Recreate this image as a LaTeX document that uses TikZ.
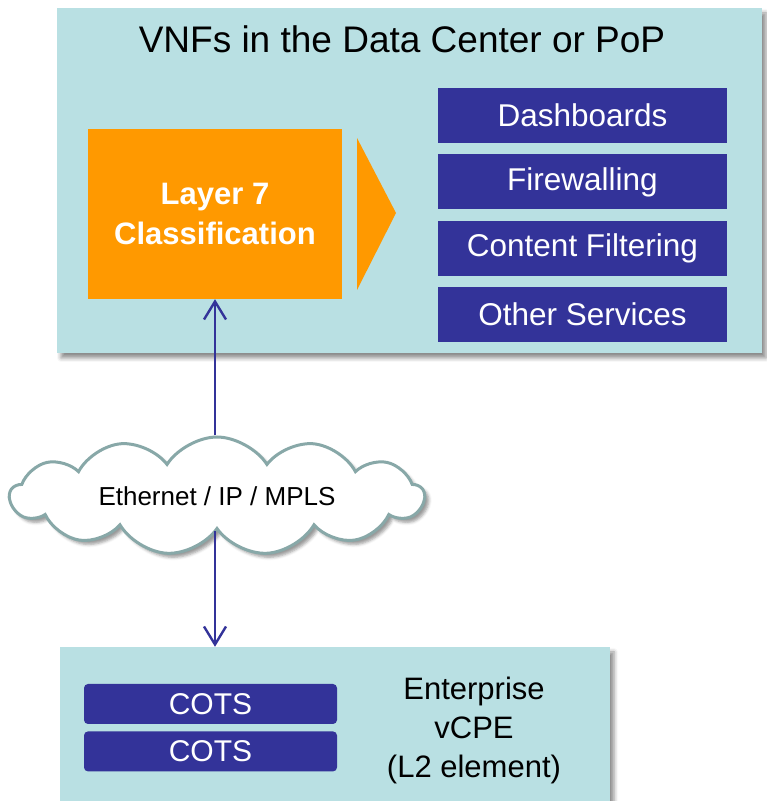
\documentclass[tikz,border=0pt]{standalone}
\usepackage{fontspec}
\setmainfont{Liberation Sans}
\usepackage{tikz}
\usetikzlibrary{positioning}
\usetikzlibrary{shapes,shadows,shadows.blur}
\usetikzlibrary{arrows.meta}
\definecolor{bgteal}{HTML}{B9E0E3}
\definecolor{svcblue}{HTML}{333399}
\definecolor{lorange}{HTML}{FF9900}
\definecolor{cloudline}{HTML}{88A8A8}
\tikzstyle{area}=[fill=bgteal,inner sep=0,blur shadow={shadow xshift=4pt,shadow yshift=-5pt,shadow blur radius=4pt,shadow opacity=45}]
\tikzstyle{svc}=[fill=svcblue,text=white,minimum width=289pt,minimum height=55pt,inner sep=0,font=\fontsize{31.5}{37}\selectfont]
\tikzstyle{cots}=[svc,rounded corners=4pt,minimum width=253pt,minimum height=40pt,font=\fontsize{30}{36}\selectfont]
\tikzstyle{net}=[cloud,cloud puffs=13,cloud puff arc=115,cloud ignores aspect,draw=cloudline,line width=3pt,fill=white,
                minimum width=414pt,minimum height=118pt,inner sep=0,blur shadow={shadow xshift=4pt,shadow yshift=-4pt,shadow blur radius=3pt,shadow opacity=40}]
\tikzstyle{link}=[draw=svcblue,line width=2.4pt,-{Straight Barb[length=18pt,width=22pt]}]
\newcommand{\svcbelow}[3]{\node[svc,below=11pt of #1] (#2) {#3};}

\begin{document}
\begin{tikzpicture}[x=1pt,y=1pt]
  \useasboundingbox (0,0) rectangle (767,801);

  \node[area,minimum width=705pt,minimum height=345pt] (dc) at (409.5,620.5) {};
  \node[anchor=base,font=\fontsize{37}{44}\selectfont] (dctitle) at (402,748) {VNFs in the Data Center or PoP};
  \node[fill=lorange,text=white,minimum width=254pt,minimum height=170pt,align=center,
        font=\bfseries\fontsize{31}{40}\selectfont] (l7) at (215,587) {Layer 7\\Classification};
  \fill[lorange] (357,663) -- (396,588) -- (357,511) -- cycle;

  \node[svc] (dboard) at (582.5,685.5) {Dashboards};
  \svcbelow{dboard}{fwall}{Firewalling}
  \svcbelow{fwall}{cfilt}{Content Filtering}
  \svcbelow{cfilt}{osvc}{Other Services}

  \node[net,font=\fontsize{26}{31}\selectfont] (wan) at (217,305) {Ethernet / IP / MPLS};

  \node[area,minimum width=550pt,minimum height=200pt] (cpe) at (335,54) {};
  \node[cots] (cots1) at (210.5,97) {COTS};
  \node[cots,below=7pt of cots1] (cots2) {COTS};
  \node[align=center,font=\fontsize{31}{39}\selectfont] (cpetxt) at (474,71) {Enterprise\\vCPE\\(L2 element)};

  \draw[link] (wan.north -| l7.south) -- (l7.south);
  \draw[link] (wan.south -| l7.south) -- (l7.south |- cpe.north);
\end{tikzpicture}
\end{document}
